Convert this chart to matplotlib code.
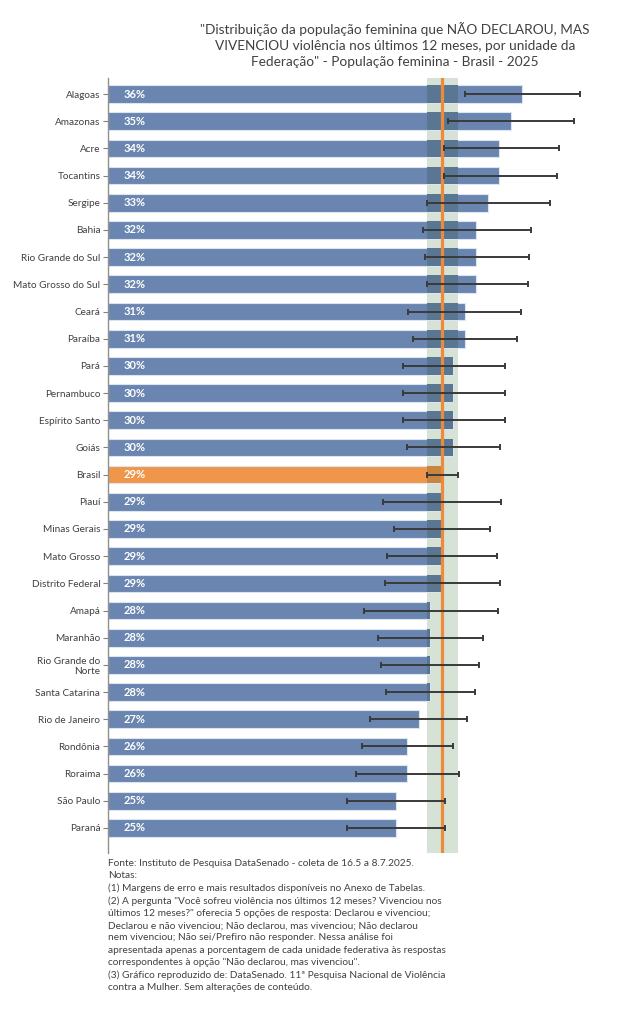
import matplotlib
matplotlib.use("Agg")
import matplotlib.pyplot as plt
import matplotlib.colors as mcolors
import numpy as np

plt.rcParams['font.family'] = ['Lato', 'DejaVu Sans']

states = ["Alagoas", "Amazonas", "Acre", "Tocantins", "Sergipe", "Bahia",
          "Rio Grande do Sul", "Mato Grosso do Sul", "Ceará", "Paraíba", "Pará",
          "Pernambuco", "Espírito Santo", "Goiás", "Brasil", "Piauí",
          "Minas Gerais", "Mato Grosso", "Distrito Federal", "Amapá", "Maranhão",
          "Rio Grande do\nNorte", "Santa Catarina", "Rio de Janeiro", "Rondônia",
          "Roraima", "São Paulo", "Paraná"]
values = [36, 35, 34, 34, 33, 32, 32, 32, 31, 31, 30, 30, 30, 30, 29, 29, 29, 29,
          29, 28, 28, 28, 28, 27, 26, 26, 25, 25]
ci_low = [31.0, 29.6, 29.2, 29.2, 27.7, 27.4, 27.6, 27.7, 26.1, 26.5, 25.65, 25.65,
          25.65, 26.0, 27.7, 23.9, 24.9, 24.3, 24.1, 22.3, 23.5, 23.7, 24.2, 22.8,
          22.1, 21.6, 20.8, 20.8]
ci_high = [41.0, 40.5, 39.2, 39.0, 38.4, 36.8, 36.6, 36.5, 35.9, 35.6, 34.5, 34.5,
           34.5, 34.1, 30.4, 34.2, 33.2, 33.8, 34.05, 33.9, 32.6, 32.3, 31.9, 31.2,
           30.0, 30.5, 29.3, 29.3]
labels = [f"{v}%" for v in values]
brasil_value = 29.05
brasil_low, brasil_high = 27.7, 30.4

title = ('"Distribuição da população feminina que NÃO DECLAROU, MAS\n'
         'VIVENCIOU violência nos últimos 12 meses, por unidade da\n'
         'Federação" - População feminina - Brasil - 2025')
notes = ("Fonte: Instituto de Pesquisa DataSenado - coleta de 16.5 a 8.7.2025.\n"
         "Notas:\n"
         "(1) Margens de erro e mais resultados disponíveis no Anexo de Tabelas.\n"
         "(2) A pergunta \"Você sofreu violência nos últimos 12 meses? Vivenciou nos\n"
         "últimos 12 meses?\" oferecia 5 opções de resposta: Declarou e vivenciou;\n"
         "Declarou e não vivenciou; Não declarou, mas vivenciou; Não declarou\n"
         "nem vivenciou; Não sei/Prefiro não responder. Nessa análise foi\n"
         "apresentada apenas a porcentagem de cada unidade federativa às respostas\n"
         "correspondentes à opção \"Não declarou, mas vivenciou\".\n"
         "(3) Gráfico reproduzido de: DataSenado. 11ª Pesquisa Nacional de Violência\n"
         "contra a Mulher. Sem alterações de conteúdo.")

BLUE = "#6a86b0"
ORANGE = "#f0964a"
EDGE = "#dce4ef"
BAND = "#d6e2d5"
TXT = "#404040"


def multiply(c1, c2):
    a = np.array(mcolors.to_rgb(c1))
    b = np.array(mcolors.to_rgb(c2))
    return tuple(a * b)


fig = plt.figure(figsize=(6.2, 10.24), dpi=100)
ax = fig.add_axes([108/620, 1-853/1024, (610-108)/620, (853-78)/1024])

y = np.arange(len(states))
colors = [ORANGE if s == "Brasil" else BLUE for s in states]

# Brasil confidence band (behind bars)
ax.axvspan(brasil_low, brasil_high, color=BAND, lw=0, zorder=1)

ax.barh(y, values, height=0.65, color=colors, edgecolor=EDGE, linewidth=0.8, zorder=2)

# multiply-blend of the band over the bars
vals = np.array(values, float)
ov_w = np.clip(np.minimum(vals, brasil_high) - brasil_low, 0, None)
ov_colors = [multiply(c, BAND) for c in colors]
ax.barh(y, ov_w, left=brasil_low, height=0.65, color=ov_colors,
        linewidth=0, zorder=3)

ax.axvline(brasil_value, color="#ee8a3a", lw=2.3, zorder=4)

low = np.array(ci_low); high = np.array(ci_high)
ax.errorbar(vals, y, xerr=[vals - low, high - vals], fmt="none", ecolor="#3a3a3a",
            elinewidth=1.4, capsize=2.5, capthick=1.4, zorder=5)

for yi, lab in zip(y, labels):
    ax.annotate(lab, (0, yi), xytext=(11, 0), textcoords="offset points",
                ha="left", va="center", color="white", fontsize=8,
                fontweight="bold", zorder=6)

ax.set_xlim(0, (610-108)/11.5)
ax.set_ylim(len(states) - 1 + 0.92, -0.59)
ax.set_yticks(y)
ax.set_yticklabels(states, fontsize=7.2, color=TXT)
ax.tick_params(axis="y", length=3.5, width=0.8, color="#808080", pad=2)
ax.set_xticks([])
for s in ["top", "right", "bottom"]:
    ax.spines[s].set_visible(False)
ax.spines["left"].set_color("#909090")
ax.spines["left"].set_linewidth(1.0)
for t in ax.get_yticklabels():
    t.set_multialignment("right")

fig.text(395/620, 1-22/1024, title, ha="center", va="top", fontsize=9.8,
         color=TXT, linespacing=1.42)
fig.text(108/620, 1-859/1024, notes, ha="left", va="top", fontsize=7.3,
         color=TXT, linespacing=1.45)

fig.savefig("out.png", dpi=100)
